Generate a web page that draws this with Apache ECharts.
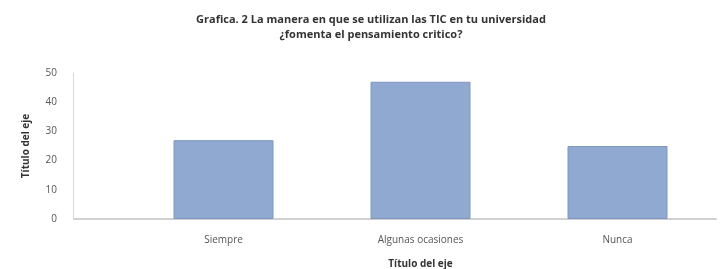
<!DOCTYPE html>
<html lang="es">
<head>
<meta charset="UTF-8">
<title>Grafica 2</title>
<script src="https://cdn.jsdelivr.net/npm/echarts@6/dist/echarts.min.js"></script>
<style>
  html, body { margin: 0; padding: 0; background: #fff; }
  #main { width: 722px; height: 269px; }
</style>
</head>
<body>
<div id="main"></div>
<script>
    // datos de la grafica
    var categorias = ['Siempre', 'Algunas ocasiones', 'Nunca'];
    var valores = [27, 47, 25];
    var yTicks = [0, 10, 20, 30, 40, 50];

    var chart = echarts.init(document.getElementById('main'));
    var option = {
        animation: false,
        title: {
            text: 'Grafica. 2 La manera en que se utilizan las TIC en tu universidad\n¿fomenta el pensamiento critico?',
            left: 366,
            top: 7,
            textAlign: 'center',
            textStyle: {
                fontFamily: 'Open Sans',
                fontSize: 11,
                fontWeight: 'bold',
                color: '#333',
                lineHeight: 15
            }
        },
        grid: {
            left: 125,
            right: 6,
            top: 73,
            bottom: 50,
            outerBoundsMode: 'none'
        },
        xAxis: {
            type: 'category',
            data: categorias,
            name: 'Título del eje',
            nameLocation: 'middle',
            nameGap: 40,
            nameTextStyle: {
                fontFamily: 'Open Sans',
                fontSize: 10,
                fontWeight: 'bold',
                color: '#333'
            },
            axisLine: { lineStyle: { color: '#d0d0d0', width: 2 } },
            axisTick: { show: false },
            axisLabel: {
                fontFamily: 'Open Sans',
                fontSize: 10,
                color: '#555',
                margin: 16
            }
        },
        yAxis: {
            type: 'value',
            min: yTicks[0],
            max: yTicks[yTicks.length - 1],
            interval: 10,
            offset: 52,
            name: 'Título del eje',
            nameLocation: 'middle',
            nameGap: 42,
            nameRotate: 90,
            nameTextStyle: {
                fontFamily: 'Open Sans',
                fontSize: 10,
                fontWeight: 'bold',
                color: '#333'
            },
            axisLine: { show: true, lineStyle: { color: '#d8d8d8' } },
            axisTick: { show: false },
            splitLine: { show: false },
            axisLabel: {
                fontFamily: 'Open Sans',
                fontSize: 10,
                color: '#555',
                margin: 16
            }
        },
        series: [
            {
                type: 'bar',
                data: valores,
                barWidth: 100,
                itemStyle: {
                    color: '#8fa9d0',
                    borderColor: '#7f97bf',
                    borderWidth: 1
                }
            }
        ]
    };
    chart.setOption(option);

    // la linea base llega hasta el eje vertical desplazado
    var y0 = chart.convertToPixel({ yAxisIndex: 0 }, 0);
    chart.setOption({
        graphic: [{
            type: 'line',
            shape: { x1: 73, y1: y0, x2: 125, y2: y0 },
            style: { stroke: '#d0d0d0', lineWidth: 2 }
        }]
    });
</script>
</body>
</html>
